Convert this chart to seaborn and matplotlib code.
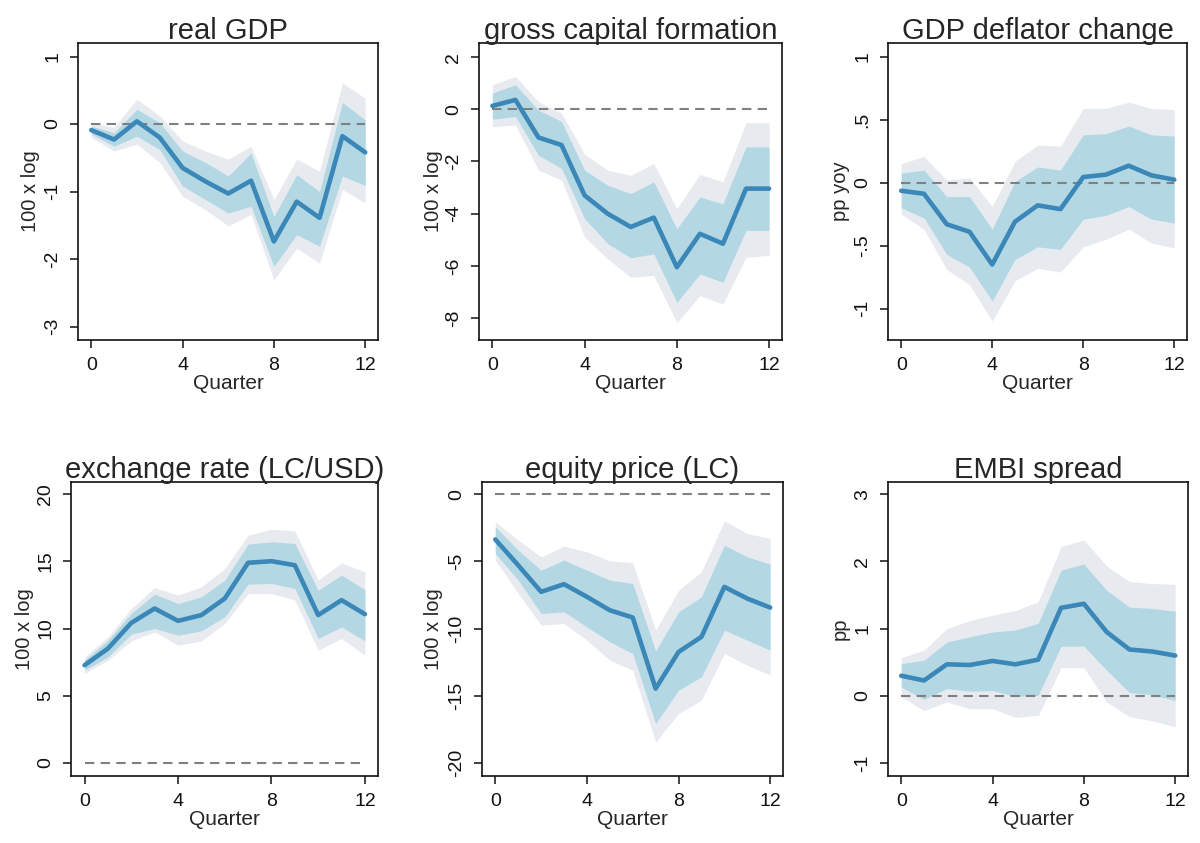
import numpy as np
import pandas as pd
import matplotlib
matplotlib.use("Agg")
import matplotlib.pyplot as plt
import seaborn as sns

# horizon (quarters)
quarters = list(range(13))

# real GDP
gdp_mean = [-0.09, -0.23, 0.04, -0.20, -0.65, -0.85, -1.03, -0.84, -1.74, -1.15, -1.39, -0.18, -0.42]
gdp_in_hi = [-0.03, -0.13, 0.22, 0.02, -0.40, -0.57, -0.77, -0.43, -1.37, -0.75, -1.00, 0.32, 0.06]
gdp_in_lo = [-0.15, -0.33, -0.18, -0.38, -0.92, -1.12, -1.32, -1.22, -2.11, -1.64, -1.81, -0.77, -0.91]
gdp_out_hi = [0.02, -0.05, 0.37, 0.12, -0.25, -0.40, -0.52, -0.33, -1.12, -0.52, -0.70, 0.61, 0.38]
gdp_out_lo = [-0.20, -0.40, -0.30, -0.57, -1.07, -1.27, -1.51, -1.34, -2.31, -1.84, -2.06, -0.97, -1.17]

# gross capital formation
gcf_mean = [0.13, 0.36, -1.08, -1.37, -3.30, -4.00, -4.51, -4.15, -6.05, -4.77, -5.15, -3.04, -3.04]
gcf_in_hi = [0.62, 0.94, -0.03, -0.47, -2.33, -2.91, -3.23, -2.78, -4.58, -3.36, -3.62, -1.44, -1.44]
gcf_in_lo = [-0.38, -0.28, -1.76, -2.27, -4.19, -5.15, -5.69, -5.54, -7.40, -6.31, -6.63, -4.64, -4.64]
gcf_out_hi = [0.94, 1.26, 0.29, -0.15, -1.72, -2.33, -2.53, -2.08, -3.81, -2.49, -2.78, -0.51, -0.51]
gcf_out_lo = [-0.67, -0.60, -2.33, -2.72, -4.90, -5.73, -6.44, -6.37, -8.17, -7.14, -7.46, -5.67, -5.60]

# GDP deflator change
defl_mean = [-0.064, -0.088, -0.33, -0.39, -0.65, -0.31, -0.18, -0.21, 0.045, 0.064, 0.135, 0.058, 0.024]
defl_in_hi = [0.077, 0.10, -0.11, -0.11, -0.37, 0.01, 0.125, 0.10, 0.38, 0.39, 0.45, 0.38, 0.37]
defl_in_lo = [-0.20, -0.28, -0.57, -0.67, -0.94, -0.61, -0.51, -0.53, -0.29, -0.26, -0.19, -0.29, -0.32]
defl_out_hi = [0.15, 0.21, 0.02, 0.04, -0.19, 0.17, 0.30, 0.29, 0.59, 0.59, 0.64, 0.59, 0.58]
defl_out_lo = [-0.25, -0.37, -0.69, -0.81, -1.10, -0.78, -0.68, -0.71, -0.51, -0.45, -0.37, -0.48, -0.52]

# exchange rate (LC/USD)
fx_mean = [7.27, 8.51, 10.42, 11.49, 10.57, 11.00, 12.23, 14.89, 15.01, 14.71, 11.00, 12.11, 11.07]
fx_in_hi = [7.64, 9.13, 11.12, 12.56, 11.86, 12.36, 13.60, 16.28, 16.45, 16.33, 12.85, 13.97, 12.90]
fx_in_lo = [6.90, 7.89, 9.58, 10.00, 9.50, 9.83, 10.87, 13.30, 13.35, 12.98, 9.26, 10.12, 9.08]
fx_out_hi = [7.89, 9.38, 11.49, 13.05, 12.48, 13.10, 14.47, 16.95, 17.39, 17.27, 13.60, 14.89, 14.22]
fx_out_lo = [6.65, 7.64, 9.08, 9.75, 8.76, 9.08, 10.37, 12.60, 12.60, 12.11, 8.39, 9.26, 8.01]

# equity price (LC)
eq_mean = [-3.37, -5.29, -7.27, -6.70, -7.64, -8.64, -9.18, -14.47, -11.74, -10.62, -6.90, -7.77, -8.44]
eq_in_hi = [-2.43, -4.17, -5.66, -4.91, -5.66, -6.40, -6.65, -11.66, -8.76, -7.64, -3.80, -4.67, -5.21]
eq_in_lo = [-4.42, -6.40, -8.88, -8.76, -9.88, -10.99, -11.86, -17.07, -14.59, -13.60, -10.12, -10.87, -11.61]
eq_out_hi = [-2.06, -3.42, -4.67, -3.87, -4.29, -4.96, -5.11, -10.12, -7.15, -5.78, -1.99, -2.93, -3.30]
eq_out_lo = [-4.91, -7.39, -9.75, -9.63, -10.87, -12.36, -13.10, -18.44, -16.33, -15.33, -11.86, -12.73, -13.47]

# EMBI spread
embi_mean = [0.30, 0.23, 0.47, 0.46, 0.52, 0.47, 0.54, 1.31, 1.37, 0.95, 0.69, 0.66, 0.60]
embi_in_hi = [0.48, 0.53, 0.80, 0.88, 0.95, 0.98, 1.08, 1.87, 1.96, 1.57, 1.32, 1.30, 1.26]
embi_in_lo = [0.13, -0.05, 0.11, 0.07, 0.08, -0.01, 0.01, 0.74, 0.74, 0.38, 0.05, 0.02, -0.07]
embi_out_hi = [0.57, 0.68, 1.00, 1.12, 1.20, 1.27, 1.40, 2.22, 2.32, 1.93, 1.70, 1.67, 1.66]
embi_out_lo = [-0.01, -0.22, -0.09, -0.19, -0.19, -0.32, -0.29, 0.42, 0.42, -0.09, -0.31, -0.37, -0.46]

titles = ["real GDP", "gross capital formation", "GDP deflator change",
          "exchange rate (LC/USD)", "equity price (LC)", "EMBI spread"]
ylabels = ["100 x log", "100 x log", "pp yoy", "100 x log", "100 x log", "pp"]
yticks = [[-3, -2, -1, 0, 1], [-8, -6, -4, -2, 0, 2], [-1, -0.5, 0, 0.5, 1],
          [0, 5, 10, 15, 20], [-20, -15, -10, -5, 0], [-1, 0, 1, 2, 3]]
yticklabels = [["-3", "-2", "-1", "0", "1"], ["-8", "-6", "-4", "-2", "0", "2"],
               ["-1", "-.5", "0", ".5", "1"], ["0", "5", "10", "15", "20"],
               ["-20", "-15", "-10", "-5", "0"], ["-1", "0", "1", "2", "3"]]
ylims = [(-3.2, 1.2), (-8.84, 2.54), (-1.25, 1.11), (-0.97, 20.9), (-20.97, 0.9), (-1.19, 3.18)]
xticks = [0, 4, 8, 12]

series = [
    (gdp_mean, gdp_in_lo, gdp_in_hi, gdp_out_lo, gdp_out_hi),
    (gcf_mean, gcf_in_lo, gcf_in_hi, gcf_out_lo, gcf_out_hi),
    (defl_mean, defl_in_lo, defl_in_hi, defl_out_lo, defl_out_hi),
    (fx_mean, fx_in_lo, fx_in_hi, fx_out_lo, fx_out_hi),
    (eq_mean, eq_in_lo, eq_in_hi, eq_out_lo, eq_out_hi),
    (embi_mean, embi_in_lo, embi_in_hi, embi_out_lo, embi_out_hi),
]

# axes boxes in pixels (left, right, top, bottom) and y-label offset from left spine
W, H = 1200, 843
boxes = [(78, 378, 43, 340), (479, 782, 43, 340), (888, 1187, 43, 340),
         (71, 378, 482, 776), (482, 783, 482, 776), (888, 1188, 482, 776)]
ylab_off = [38, 36, 38, 37, 39, 38]

sns.set_style("white")
plt.rcParams['font.family'] = ['Liberation Sans', 'DejaVu Sans']

line_color = '#3a87b8'
inner_color = '#b3d8e4'
outer_color = '#e7ebf0'

fig = plt.figure(figsize=(W / 100, H / 100), dpi=100)
fig.patch.set_facecolor('white')

for i, (mean, in_lo, in_hi, out_lo, out_hi) in enumerate(series):
    l, r, t, b = boxes[i]
    ax = fig.add_axes([l / W, 1 - b / H, (r - l) / W, (b - t) / H])
    df = pd.DataFrame({'Quarter': quarters, 'irf': mean})

    #confidence bands: outer then inner
    ax.fill_between(quarters, out_lo, out_hi, color=outer_color, lw=0, zorder=1)
    ax.fill_between(quarters, in_lo, in_hi, color=inner_color, lw=0, zorder=2)
    ax.hlines(0, min(quarters), max(quarters), colors='#808080', linestyles=(0, (4.5, 3)),
              lw=1.5, zorder=3)
    sns.lineplot(data=df, x='Quarter', y='irf', color=line_color, lw=3.3, ax=ax, zorder=4)

    ax.set_xlim(-0.58, 12.56)
    ax.set_ylim(*ylims[i])
    ax.set_xticks(xticks)
    ax.set_xticklabels([str(x) for x in xticks])
    ax.set_yticks(yticks[i])
    ax.set_yticklabels(yticklabels[i], rotation=90, va='center')
    ax.tick_params(axis='both', direction='out', length=6, width=1.1, labelsize=14,
                   colors='#111111')
    ax.tick_params(axis='x', pad=6)
    ax.tick_params(axis='y', pad=6)
    ax.tick_params(left=True, bottom=True)
    for s in ax.spines.values():
        s.set_visible(True)
        s.set_color('#111111')
        s.set_linewidth(1.2)
    ax.set_title(titles[i], fontsize=21, pad=3)
    ax.set_xlabel('Quarter', fontsize=15, labelpad=0)
    ax.set_ylabel(ylabels[i], fontsize=14.5)
    ax.yaxis.set_label_coords(-ylab_off[i] / (r - l), 0.5)

fig.savefig('out.png', dpi=100, facecolor='white')
